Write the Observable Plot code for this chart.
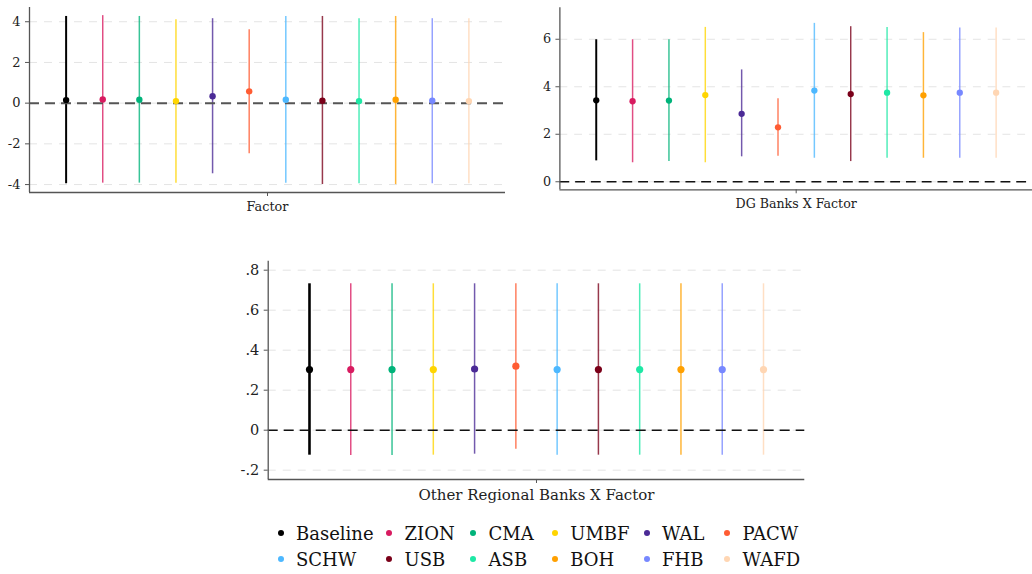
<!DOCTYPE html>
<html><head><meta charset="utf-8">
<script src="https://cdn.jsdelivr.net/npm/d3@7"></script>
<script src="https://cdn.jsdelivr.net/npm/@observablehq/plot@0.6"></script>
<style>
html,body{margin:0;padding:0;background:#fff;}
body{width:1032px;height:574px;position:relative;overflow:hidden;font-family:"DejaVu Serif","Liberation Serif",serif;}
.panel{position:absolute;}
#legend{position:absolute;left:277.7px;top:520.3px;display:grid;grid-template-columns:108.6px 84px 81.7px 91.7px 80.6px auto;font-size:18px;color:#111;}
.item{display:flex;align-items:center;height:26px;white-space:nowrap;}
.sw{width:6px;height:6px;border-radius:50%;margin-right:12.3px;flex:none;}
</style></head><body>
<div id="p1" class="panel" style="left:0px;top:0px"></div>
<div id="p2" class="panel" style="left:520px;top:0px"></div>
<div id="p3" class="panel" style="left:220px;top:250px"></div>
<div id="legend"></div>
<script>
const banks = ["Baseline","ZION","CMA","UMBF","WAL","PACW","SCHW","USB","ASB","BOH","FHB","WAFD"];
const colors = ["#000000","#d81b60","#00b37a","#ffd500","#4b2a96","#ff5c33","#4db8ff","#7a0019","#1ee8a5","#ffa000","#7788ff","#ffd6b3"];

// Panel: Factor
const factorEst = [0.15, 0.18, 0.17, 0.10, 0.34, 0.58, 0.17, 0.12, 0.10, 0.17, 0.12, 0.10];
const factorLo  = [-3.96, -3.93, -3.93, -3.93, -3.47, -2.49, -3.93, -4.00, -3.96, -4.00, -3.96, -3.96];
const factorHi  = [4.26, 4.30, 4.26, 4.10, 4.15, 3.61, 4.26, 4.26, 4.15, 4.26, 4.15, 4.15];
const factorTicks = [-4, -2, 0, 2, 4];

// Panel: DG Banks X Factor
const dgEst = [3.43, 3.39, 3.42, 3.65, 2.86, 2.29, 3.84, 3.69, 3.75, 3.64, 3.75, 3.75];
const dgLo  = [0.88, 0.80, 0.85, 0.80, 1.05, 1.07, 0.99, 0.85, 0.99, 0.99, 0.99, 0.99];
const dgHi  = [5.98, 5.98, 5.98, 6.50, 4.71, 3.50, 6.67, 6.53, 6.50, 6.28, 6.47, 6.47];
const dgTicks = [0, 2, 4, 6];

// Panel: Other Regional Banks X Factor
const otherEst = [0.303, 0.303, 0.303, 0.303, 0.306, 0.320, 0.303, 0.303, 0.303, 0.303, 0.303, 0.303];
const otherLo  = [-0.125, -0.127, -0.127, -0.125, -0.120, -0.095, -0.125, -0.125, -0.125, -0.125, -0.125, -0.125];
const otherHi  = [0.732, 0.732, 0.732, 0.732, 0.732, 0.732, 0.732, 0.732, 0.732, 0.732, 0.732, 0.732];
const otherTicks = [-0.2, 0, 0.2, 0.4, 0.6, 0.8];

const labels = ["Factor", "DG Banks X Factor", "Other Regional Banks X Factor"];

function rows(est, lo, hi) {
  return banks.map((b, i) => ({bank: b, pos: i + 1, est: est[i], lo: lo[i], hi: hi[i]}));
}

function panel(el, data, o) {
  const chart = Plot.plot({
    width: o.mLeft + o.plotW + o.mRight,
    height: o.mTop + o.plotH + o.mBottom,
    marginLeft: o.mLeft, marginRight: o.mRight, marginTop: o.mTop, marginBottom: o.mBottom,
    x: {domain: [0, 13], axis: null, label: null},
    y: {domain: o.domain, axis: null, label: null},
    color: {domain: banks, range: colors},
    style: {fontFamily: "'DejaVu Serif', 'Liberation Serif', serif", fontSize: o.fontSize + "px", color: "#222", background: "transparent", overflow: "visible"},
    marks: [
      Plot.gridY(o.ticks, {stroke: "#e4e4e4", strokeOpacity: 1, strokeWidth: 1, strokeDasharray: "8,7"}),
      Plot.ruleX(data, {x: "pos", y1: "lo", y2: "hi", stroke: "bank",
        strokeWidth: d => d.bank === "Baseline" ? o.baseW : 1.5,
        strokeOpacity: d => d.bank === "Baseline" ? 1 : 0.78}),
      Plot.ruleY([0], {stroke: o.zeroColor, strokeWidth: o.zeroW, strokeDasharray: "10,6"}),
      Plot.dot(data, {x: "pos", y: "est", fill: "bank", r: o.r}),
      Plot.ruleX([0], {stroke: "#555", strokeWidth: 1.3}),
      Plot.ruleY([o.domain[0]], {stroke: "#555", strokeWidth: 1.3}),
      Plot.axisY(o.ticks, {tickSize: 4, tickPadding: 5, tickFormat: o.fmt, fontSize: o.fontSize, stroke: "#555"}),
      Plot.axisX([6.5], {tickSize: 4, tickPadding: o.labelPad, tickFormat: () => o.label, fontSize: o.labelSize, stroke: "#555"})
    ]
  });
  document.getElementById(el).appendChild(chart);
}

const plain = d => String(d);
const dotFmt = d => d === 0 ? "0" : String(d).replace("0.", ".");

panel("p1", rows(factorEst, factorLo, factorHi), {
  mLeft: 29, mRight: 10, mTop: 7, mBottom: 38, plotW: 476, plotH: 185,
  domain: [-4.39, 4.70], ticks: factorTicks, fmt: plain, label: labels[0],
  fontSize: 13, labelSize: 12.8, labelPad: 5, baseW: 2, r: 3.2, zeroColor: "#555", zeroW: 2
});
panel("p2", rows(dgEst, dgLo, dgHi), {
  mLeft: 40, mRight: 0, mTop: 7.3, mBottom: 38, plotW: 480, plotH: 185,
  domain: [-0.34, 7.33], ticks: dgTicks, fmt: plain, label: labels[1],
  fontSize: 13, labelSize: 12.8, labelPad: 5, baseW: 2, r: 3.2, zeroColor: "#111", zeroW: 1.4
});
panel("p3", rows(otherEst, otherLo, otherHi), {
  mLeft: 47.7, mRight: 10, mTop: 10.7, mBottom: 34, plotW: 536.6, plotH: 218.3,
  domain: [-0.2465, 0.845], ticks: otherTicks, fmt: dotFmt, label: labels[2],
  fontSize: 14.5, labelSize: 15, labelPad: 6, baseW: 2.6, r: 3.6, zeroColor: "#111", zeroW: 1.5
});

// Legend: 2 rows x 6 columns
const leg = d3.select("#legend");
const items = leg.selectAll(".item").data(banks).join("div").attr("class", "item");
items.append("span").attr("class", "sw").style("background", d => colors[banks.indexOf(d)]);
items.append("span").text(d => d);
</script>
</body></html>
